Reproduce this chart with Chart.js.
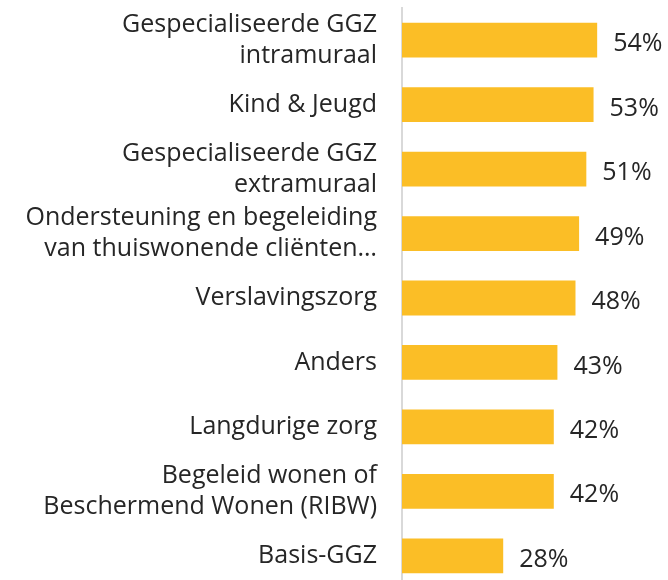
<!DOCTYPE html>
<html>
<head>
<meta charset="utf-8">
<script src="https://cdn.jsdelivr.net/npm/chart.js@4.4.0/dist/chart.umd.min.js"></script>
<style>
  html, body { margin: 0; padding: 0; background: #fff; overflow: hidden; }
  #wrap { position: relative; width: 668px; height: 588px; }
</style>
</head>
<body>
<div id="wrap"><canvas id="careChart"></canvas></div>
<script>
const categories = [
  ['Gespecialiseerde GGZ', 'intramuraal'],
  'Kind & Jeugd',
  ['Gespecialiseerde GGZ', 'extramuraal'],
  ['Ondersteuning en begeleiding', 'van thuiswonende cliënten…'],
  'Verslavingszorg',
  'Anders',
  'Langdurige zorg',
  ['Begeleid wonen of', 'Beschermend Wonen (RIBW)'],
  'Basis-GGZ'
];
const percentages = [54, 53, 51, 49, 48, 43, 42, 42, 28];

const FONT = '"Open Sans", sans-serif';

// value labels right of each bar
const valueLabels = {
  id: 'valueLabels',
  afterDatasetsDraw(chart) {
    const c = chart.ctx;
    const meta = chart.getDatasetMeta(0);
    c.save();
    c.font = '25px ' + FONT;
    c.fillStyle = '#262626';
    c.textAlign = 'left';
    c.textBaseline = 'middle';
    meta.data.forEach((bar, i) => {
      c.fillText(percentages[i] + '%', bar.x + 16, bar.y + 4);
    });
    c.restore();
  }
};

new Chart(document.getElementById('careChart'), {
  type: 'bar',
  data: {
    labels: categories,
    datasets: [{
      data: percentages,
      backgroundColor: '#FBBE26',
      barPercentage: 0.54,
      categoryPercentage: 1
    }]
  },
  options: {
    indexAxis: 'y',
    responsive: true,
    maintainAspectRatio: false,
    animation: false,
    layout: { padding: { top: 8, right: 13, bottom: 0, left: 0 } },
    scales: {
      x: {
        display: false,
        min: 0,
        max: 70
      },
      y: {
        afterFit(scale) {
          scale.width = 402;
          scale.paddingTop = 0;
          scale.paddingBottom = 0;
        },
        grid: { display: false },
        border: { display: true, color: '#d9d9d9', width: 2 },
        ticks: {
          autoSkip: false,
          color: '#262626',
          padding: 17,
          font: { family: FONT, size: 25, lineHeight: 1.24 }
        }
      }
    },
    plugins: {
      legend: { display: false },
      tooltip: { enabled: false }
    }
  },
  plugins: [valueLabels]
});
</script>
</body>
</html>
